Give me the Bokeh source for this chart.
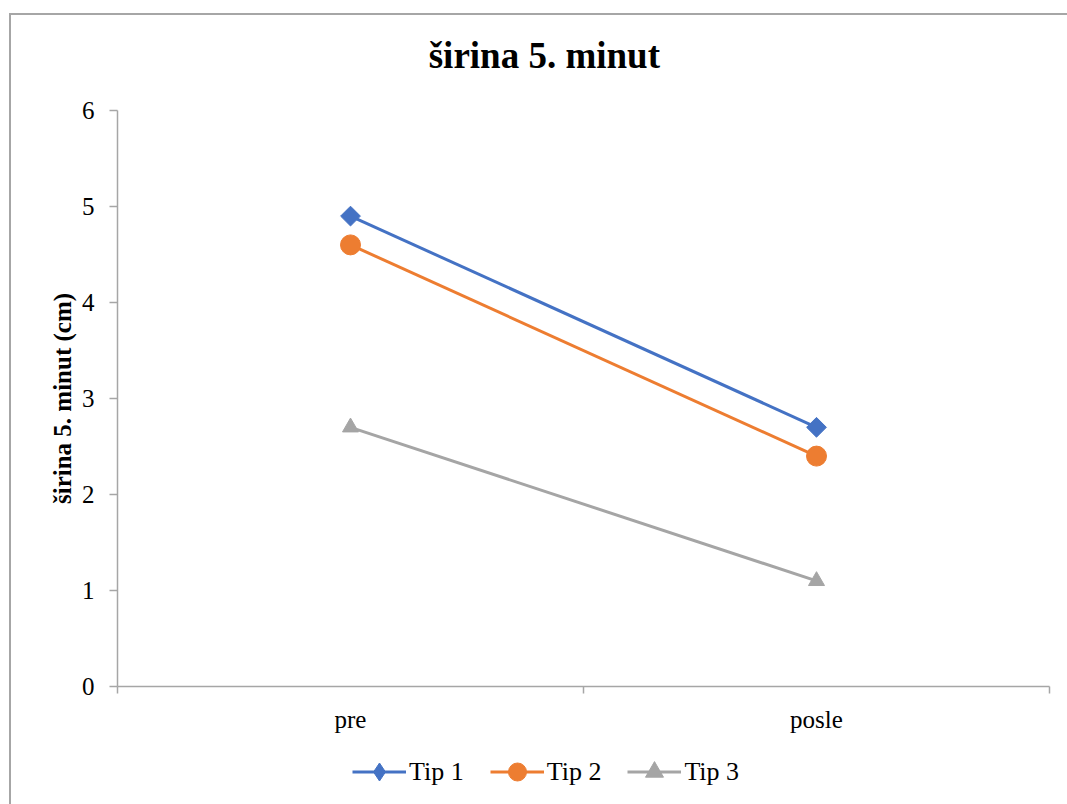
import math

from bokeh.core.properties import value
from bokeh.embed import file_html
from bokeh.layouts import column
from bokeh.models import FixedTicker, Legend, LegendItem, Range1d
from bokeh.plotting import figure
from bokeh.resources import INLINE

# Measurements: pre / posle
categories = ["pre", "posle"]
tip1 = [4.9, 2.7]
tip2 = [4.6, 2.4]
tip3 = [2.7, 1.1]
y_ticks = [0, 1, 2, 3, 4, 5, 6]

title_text = "širina 5. minut"
y_label = "širina 5. minut (cm)"
series_names = ["Tip 1", "Tip 2", "Tip 3"]
colors = ["#4472C4", "#ED7D31", "#A5A5A5"]

FONT = "Liberation Serif"
AXIS_COLOR = "#A6A6A6"
TICK_SIZE = "25px"
W = 1056


def strip(height):
    """Axis-less band used for the heading and the legend."""
    f = figure(width=W, height=height, output_backend="svg", toolbar_location=None,
               x_range=Range1d(0, 1), y_range=Range1d(0, height), min_border=0)
    f.axis.visible = False
    f.grid.visible = False
    f.outline_line_color = None
    f.background_fill_color = "white"
    f.border_fill_color = "white"
    return f


# heading band; the title is centred on the whole chart box, left of the frame centre
HEAD_H = 80
head = strip(HEAD_H)
head.text(x=[0.458], y=[HEAD_H - 40], text=[title_text],
          text_font=value(FONT), text_font_size="37px", text_font_style="bold",
          text_color="black", text_align="center", text_baseline="middle")

# category centres sit in the middle of each unit-wide slot
xs = [i + 0.5 for i in range(len(categories))]
boundaries = list(range(len(categories) + 1))

p = figure(
    width=W, height=650,
    output_backend="svg", toolbar_location=None,
    x_range=Range1d(0, len(categories)), y_range=Range1d(0, 6),
    min_border_left=106, min_border_right=18,
    min_border_top=15, min_border_bottom=59,
)
p.background_fill_color = "white"
p.border_fill_color = "white"
p.outline_line_color = None
p.xgrid.visible = False
p.ygrid.visible = False

# x axis: labels at slot centres, tick marks at slot boundaries
xa = p.xaxis[0]
xa.ticker = FixedTicker(ticks=xs, minor_ticks=boundaries)
xa.major_label_overrides = {x: c for x, c in zip(xs, categories)}
xa.major_tick_line_color = None
xa.minor_tick_line_color = AXIS_COLOR
xa.minor_tick_line_width = 1.5
xa.minor_tick_in = 0
xa.minor_tick_out = 7
xa.axis_line_color = AXIS_COLOR
xa.axis_line_width = 1.5
xa.major_label_text_font = FONT
xa.major_label_text_font_size = TICK_SIZE
xa.major_label_text_color = "black"
xa.major_label_standoff = 12

# y axis
ya = p.yaxis[0]
ya.ticker = FixedTicker(ticks=y_ticks)
ya.minor_tick_line_color = None
ya.major_tick_line_color = AXIS_COLOR
ya.major_tick_line_width = 1.5
ya.major_tick_in = 0
ya.major_tick_out = 8
ya.axis_line_color = AXIS_COLOR
ya.axis_line_width = 1.5
ya.major_label_text_font = FONT
ya.major_label_text_font_size = TICK_SIZE
ya.major_label_text_color = "black"
ya.major_label_standoff = 15
ya.axis_label = y_label
ya.axis_label_text_font = FONT
ya.axis_label_text_font_size = "25px"
ya.axis_label_text_font_style = "bold"
ya.axis_label_text_color = "black"
ya.axis_label_standoff = 3

series = [tip1, tip2, tip3]
markers = [("square", 14, math.pi / 4), ("circle", 20, 0.0), ("triangle", 16, 0.0)]
for vals, color, (mk, sz, ang) in zip(series, colors, markers):
    p.line(xs, vals, line_color=color, line_width=3)
    p.scatter(xs, vals, marker=mk, size=sz, angle=ang,
              fill_color=color, line_color=color)

# legend band under the chart; its keys have no points of their own
LH = 59
leg = strip(LH)
legend_markers = ["diamond", "circle", "triangle"]
nan = float("nan")
items = []
for name, color, lmk in zip(series_names, colors, legend_markers):
    ln = leg.line([nan], [nan], line_color=color, line_width=3)
    key = leg.scatter([nan], [nan], marker=lmk, fill_color=color, line_color=color)
    items.append(LegendItem(label=name, renderers=[ln, key]))

legend = Legend(
    items=items, orientation="horizontal", location=(235, 10),
    glyph_width=54, glyph_height=45, label_standoff=3, spacing=26,
    padding=0, margin=0, border_line_color=None, background_fill_alpha=0,
    label_text_font=FONT, label_text_font_size="26px", label_text_color="black",
)
leg.add_layout(legend)

page = column(head, p, leg, spacing=0)
page.margin = (13, 0, 0, 9)
page.styles = {"border-left": "2px solid #A6A6A6", "border-top": "2px solid #A6A6A6"}

open("out.html", "w").write(file_html(page, INLINE))
